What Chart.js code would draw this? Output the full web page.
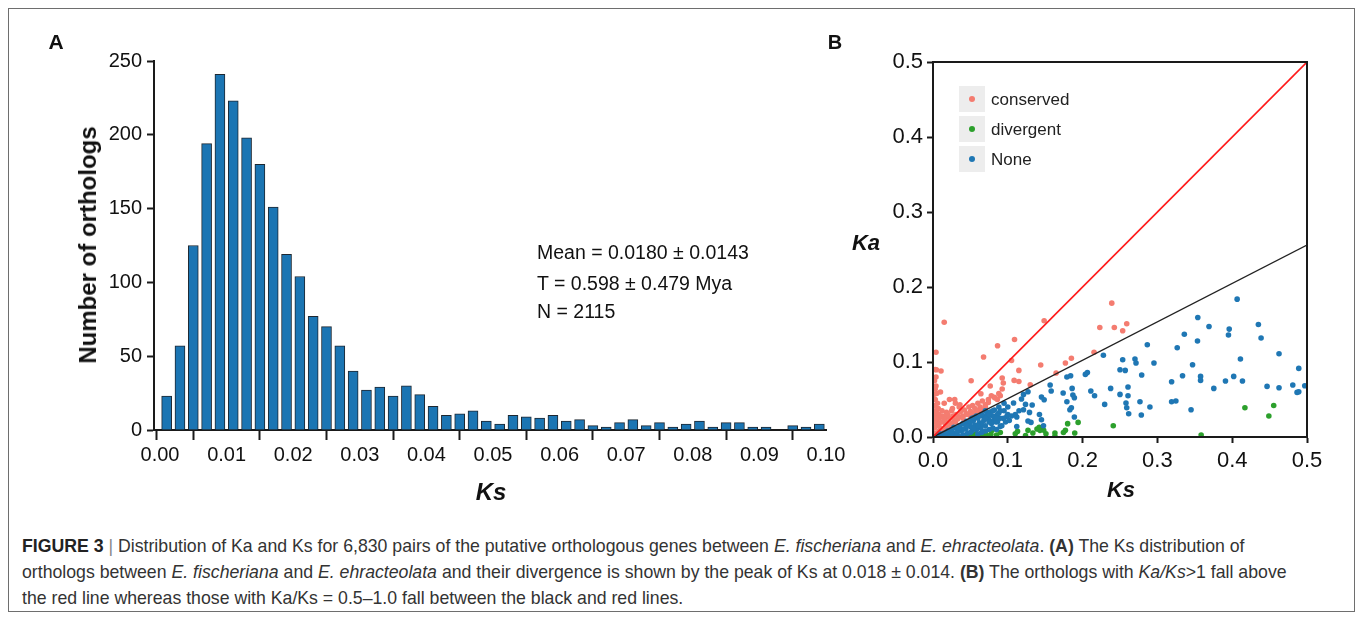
<!DOCTYPE html>
<html><head><meta charset="utf-8">
<script src="https://cdn.jsdelivr.net/npm/chart.js@4.4.0/dist/chart.umd.min.js"></script>
<style>
html,body{margin:0;padding:0;background:#fff;}
body{width:1357px;height:617px;position:relative;overflow:hidden;font-family:"Liberation Sans",Arial,sans-serif;color:#111;}
#frame{position:absolute;left:8px;top:8px;width:1347px;height:604px;box-sizing:border-box;border:1.5px solid #6e6e6e;}
canvas{position:absolute;}
.t{position:absolute;white-space:nowrap;line-height:1;transform:translate(-50%,-50%);}
.l{position:absolute;white-space:nowrap;line-height:1;transform:translate(0,-50%);}
.sq{position:absolute;width:26px;height:26px;background:#ededed;}
.dot{position:absolute;width:6px;height:6px;border-radius:50%;transform:translate(-50%,-50%);}
#cap{position:absolute;left:22px;top:533px;font-size:17.7px;line-height:26px;color:#333;white-space:nowrap;}
</style></head>
<body>
<div id="frame"></div>
<canvas id="cA" width="860" height="520" style="left:0;top:0;width:860px;height:520px"></canvas>
<canvas id="cB" width="527" height="520" style="left:830px;top:0;width:527px;height:520px"></canvas>

<div class="t" style="left:56px;top:40.5px;font-size:21px;font-weight:bold;">A</div>
<div class="t" style="left:835px;top:41.5px;font-size:20px;font-weight:bold;">B</div>
<div class="t" style="left:88px;top:245px;font-size:24px;font-weight:bold;transform:translate(-50%,-50%) rotate(-90deg);">Number of orthologs</div>
<div class="t" style="left:491px;top:492px;font-size:24px;font-weight:bold;font-style:italic;">Ks</div>
<div class="t" style="left:866px;top:243px;font-size:22px;font-weight:bold;font-style:italic;">Ka</div>
<div class="t" style="left:1121px;top:490px;font-size:22px;font-weight:bold;font-style:italic;">Ks</div>
<div class="l" style="left:537px;top:252.5px;font-size:19.5px;">Mean = 0.0180 ± 0.0143</div>
<div class="l" style="left:537px;top:283.5px;font-size:19.5px;">T = 0.598 ± 0.479 Mya</div>
<div class="l" style="left:537px;top:312px;font-size:19.5px;">N = 2115</div>

<div class="sq" style="left:959px;top:86px;"></div>
<div class="sq" style="left:959px;top:116px;"></div>
<div class="sq" style="left:959px;top:146px;"></div>
<div class="dot" style="left:972px;top:99px;background:#f47c70;"></div>
<div class="dot" style="left:972px;top:129px;background:#2ca02c;"></div>
<div class="dot" style="left:972px;top:159px;background:#1f77b4;"></div>
<div class="l" style="left:991px;top:99px;font-size:17px;color:#222;">conserved</div>
<div class="l" style="left:991px;top:129px;font-size:17px;color:#222;">divergent</div>
<div class="l" style="left:991px;top:159px;font-size:17px;color:#222;">None</div>

<div id="cap"><b style="color:#222">FIGURE 3</b> <span style="color:#888">|</span> Distribution of Ka and Ks for 6,830 pairs of the putative orthologous genes between <i>E. fischeriana</i> and <i>E. ehracteolata</i>. <b>(A)</b> The Ks distribution of<br>orthologs between <i>E. fischeriana</i> and <i>E. ehracteolata</i> and their divergence is shown by the peak of Ks at 0.018 ± 0.014. <b>(B)</b> The orthologs with <i>Ka/Ks</i>&gt;1 fall above<br>the red line whereas those with Ka/Ks = 0.5–1.0 fall between the black and red lines.</div>

<script>
// ---------- Panel A data ----------
const binCenters = [0.001,0.003,0.005,0.007,0.009,0.011,0.013,0.015,0.017,0.019,
  0.021,0.023,0.025,0.027,0.029,0.031,0.033,0.035,0.037,0.039,
  0.041,0.043,0.045,0.047,0.049,0.051,0.053,0.055,0.057,0.059,
  0.061,0.063,0.065,0.067,0.069,0.071,0.073,0.075,0.077,0.079,
  0.081,0.083,0.085,0.087,0.089,0.091,0.093,0.095,0.097,0.099];
const counts = [23,57,125,194,241,223,198,180,151,119,
  104,77,70,57,40,27,29,23,30,24,
  16,10,11,13,6,4,10,9,8,10,
  6,7,3,2,5,7,3,5,2,4,
  6,2,5,5,2,2,0,3,2,4];
const xTicksA = [-0.0009,0,0.01,0.02,0.03,0.04,0.05,0.06,0.07,0.08,0.09,0.1];
const yTicksA = [0,50,100,150,200,250];

// ---------- Panel B data ----------
const conservedKs = [0.015,0.239,0.1486,0.223,0.2424,0.2536,0.259,0.109,0.0863,0.0676,0.2153,0.185,0.177,0.105,0.144,0.1148,0.1646,0.004,0.0045,0.0107,0.051,0.0925,0.094,0.1085,0.1148,0.0765,0.064,0.130,0.0925,0.029,0.036,0.074,0.082,0.086,0.09,
  0.002,0.002,0.003,0.002,0.003,0.002,0.003,0.002,0.003,0.004,0.002,0.004,0.003,0.006,0.005,0.006,0.005,0.006,0.005,0.008,0.008,0.009,0.007,0.010,0.012,0.013,0.015,0.017,0.019,0.021,0.023,0.025,0.027,0.029,0.031,0.033,0.035,0.037,0.040,0.042,0.045,0.048,0.050,0.053,0.056,0.060,0.063,0.066,0.070,0.074,0.078,0.083,0.088,0.012,0.016,0.020,0.024,0.014,0.018,0.026,0.030,0.035,0.015,0.022,0.010,
  0.010,0.020,0.025,0.030,0.040,0.045,0.050,0.055,0.060,0.065,0.070,0.008,0.012,0.016,0.005,0.004];
const conservedKa = [0.153,0.1785,0.155,0.146,0.146,0.1416,0.151,0.130,0.1217,0.1066,0.113,0.105,0.0986,0.102,0.096,0.0888,0.0853,0.113,0.0897,0.088,0.075,0.0786,0.072,0.0755,0.074,0.068,0.0577,0.0697,0.064,0.050,0.043,0.046,0.053,0.050,0.055,
  0.005,0.012,0.020,0.028,0.035,0.042,0.050,0.057,0.064,0.068,0.075,0.080,0.090,0.003,0.015,0.024,0.032,0.045,0.058,0.008,0.018,0.026,0.038,0.012,0.020,0.028,0.024,0.016,0.027,0.020,0.025,0.018,0.028,0.022,0.030,0.024,0.027,0.034,0.028,0.036,0.031,0.040,0.034,0.042,0.038,0.045,0.040,0.048,0.043,0.050,0.055,0.052,0.058,0.008,0.010,0.013,0.015,0.004,0.033,0.038,0.045,0.040,0.045,0.050,0.060,
  0.006,0.030,0.035,0.020,0.025,0.030,0.028,0.032,0.035,0.036,0.040,0.030,0.035,0.022,0.005,0.025];
const divergentKs = [0.3585,0.241,0.417,0.4555,0.449,0.194,0.180,0.177,0.1895,0.1744,0.163,0.151,0.139,0.143,0.127,0.1335,0.113,0.110,0.1237,0.0774,0.079,0.090,0.0676,0.063,0.056,0.050,0.060,0.072,0.085,0.045,0.163,0.148,0.142,0.070,0.055];
const divergentKa = [0.0027,0.015,0.039,0.042,0.028,0.0195,0.0178,0.0089,0.0053,0.006,0.0053,0.0044,0.0107,0.0089,0.0089,0.0053,0.0075,0.0044,0.0018,0.0036,0.0089,0.006,0.0044,0.0027,0.0018,0.0018,0.0036,0.0018,0.0027,0.001,0.001,0.009,0.013,0.007,0.004];
const noneKs = [0.4066,0.354,0.369,0.336,0.3536,0.396,0.395,0.435,0.4386,0.2865,0.3265,0.4626,0.2278,0.2536,0.270,0.2714,0.2954,0.257,0.250,0.347,0.411,0.489,0.279,0.3336,0.3577,0.402,0.3577,0.319,0.391,0.4137,0.481,0.497,0.4466,0.4626,0.3754,0.2375,0.2607,0.4867,0.489,0.211,0.216,0.250,0.2607,0.2037,0.2064,0.184,0.179,0.1566,0.158,0.174,0.186,0.187,0.189,0.179,0.183,0.185,0.189,0.2767,0.258,0.259,0.2616,0.290,0.2785,0.319,0.3247,0.345,0.2295,0.145,0.1486,0.127,0.121,0.1183,0.1237,0.121,0.1326,0.129,0.1423,0.145,0.127,0.131,0.1477,0.112,0.112,0.1077,0.0988,0.0943,0.088,0.0863,0.0765,0.0738,0.081,0.090,
  0.005,0.008,0.010,0.012,0.015,0.017,0.020,0.022,0.025,0.027,0.030,0.032,0.034,0.036,0.038,0.040,0.042,0.044,0.046,0.048,0.050,0.052,0.054,0.056,0.058,0.060,0.062,0.064,0.066,0.068,0.070,0.072,0.074,0.076,0.078,0.080,0.082,0.084,0.086,0.088,0.090,0.095,0.097,0.100,0.102,0.105,0.060,0.065,0.075,0.045,0.035,0.028,0.018,0.052,0.040,0.058,0.070,0.075,0.080,0.092,0.085,
  0.030,0.040,0.050,0.055,0.065,0.070,0.075,0.080,0.085,0.090,0.045,0.035,0.025,0.060,0.070,0.065,0.055,0.050,0.110,0.115,0.100,0.095];
const noneKa = [0.1838,0.1594,0.1474,0.137,0.128,0.1439,0.136,0.150,0.132,0.123,0.119,0.111,0.109,0.103,0.104,0.0986,0.0986,0.0888,0.0897,0.0964,0.104,0.0915,0.0827,0.0817,0.0808,0.0808,0.0755,0.0737,0.0746,0.0746,0.0693,0.0684,0.0675,0.0657,0.0648,0.0648,0.0666,0.0595,0.0604,0.0613,0.055,0.0568,0.055,0.0835,0.0861,0.0817,0.080,0.0693,0.0613,0.0586,0.0648,0.056,0.0524,0.047,0.0364,0.039,0.0266,0.047,0.0453,0.039,0.031,0.040,0.0293,0.047,0.048,0.0364,0.0435,0.0533,0.0497,0.0604,0.0568,0.0506,0.0435,0.0364,0.0426,0.0328,0.030,0.023,0.0213,0.0195,0.015,0.0266,0.014,0.0453,0.0275,0.0249,0.032,0.0204,0.0329,0.0284,0.022,0.0142,
  0.001,0.002,0.004,0.001,0.005,0.002,0.008,0.004,0.010,0.002,0.012,0.006,0.001,0.015,0.009,0.003,0.017,0.011,0.005,0.020,0.014,0.008,0.022,0.016,0.010,0.025,0.019,0.012,0.028,0.022,0.015,0.030,0.024,0.033,0.018,0.028,0.036,0.020,0.030,0.040,0.025,0.035,0.020,0.030,0.022,0.028,0.004,0.006,0.010,0.021,0.008,0.013,0.006,0.025,0.018,0.028,0.035,0.030,0.012,0.015,0.010,
  0.005,0.010,0.020,0.012,0.018,0.025,0.020,0.035,0.025,0.035,0.015,0.012,0.006,0.015,0.008,0.030,0.026,0.006,0.030,0.035,0.040,0.045];
const redLineKs = [0,0.5], redLineKa = [0,0.5];
const blackLineKs = [0,0.5], blackLineKa = [0,0.256];
const ticksB = [0,0.1,0.2,0.3,0.4,0.5];

const FONT = '"Liberation Sans", Arial, sans-serif';
const AX = '#1a1a1a';
const pts = (xs, ys) => xs.map((x, i) => ({x, y: ys[i]}));

// ---------- Panel A ----------
new Chart(document.getElementById('cA'), {
  type: 'bar',
  data: { datasets: [{
    data: pts(binCenters, counts),
    backgroundColor: '#1b75b3', borderColor: '#1e2730', borderWidth: 1,
    barThickness: 10, borderSkipped: 'start'
  }]},
  options: {
    responsive: false, animation: false, devicePixelRatio: 1,
    layout: { padding: { top: 61, right: 34, left: 0, bottom: 0 } },
    plugins: { legend: { display: false }, tooltip: { enabled: false } },
    scales: {
      x: {
        type: 'linear', min: -0.0009, max: 0.1, offset: false,
        afterBuildTicks: s => { s.ticks = xTicksA.map(v => ({ value: v })); },
        afterFit: s => { s.height = 90; },
        grid: { drawOnChartArea: false, tickLength: 10, tickWidth: 2, tickColor: AX },
        border: { display: true, width: 2, color: AX },
        ticks: { autoSkip: false, maxRotation: 0, padding: 3, color: '#111',
          font: { family: FONT, size: 20 },
          callback: v => v < 0 ? '' : v.toFixed(2) }
      },
      y: {
        min: 0, max: 250,
        afterBuildTicks: s => { s.ticks = yTicksA.map(v => ({ value: v })); },
        afterFit: s => { s.width = 154; },
        grid: { drawOnChartArea: false, tickLength: 7, tickWidth: 2, tickColor: AX },
        border: { display: true, width: 2, color: AX },
        ticks: { padding: 5, color: '#111', font: { family: FONT, size: 20 } }
      }
    }
  }
});

// ---------- Panel B ----------
const frameB = {
  id: 'frameB',
  afterDraw(chart) {
    const a = chart.chartArea, c = chart.ctx;
    c.save(); c.strokeStyle = AX; c.lineWidth = 2;
    c.strokeRect(a.left, a.top, a.right - a.left, a.bottom - a.top);
    c.restore();
  }
};
new Chart(document.getElementById('cB'), {
  type: 'scatter',
  data: { datasets: [
    { type: 'line', data: pts(redLineKs, redLineKa), borderColor: '#ff1a1a', borderWidth: 1.6, pointRadius: 0, order: 0 },
    { type: 'line', data: pts(blackLineKs, blackLineKa), borderColor: '#222', borderWidth: 1.4, pointRadius: 0, order: 0 },
    { label: 'None', data: pts(noneKs, noneKa), backgroundColor: '#1f77b4', pointRadius: 2.8, borderWidth: 0, order: 1 },
    { label: 'divergent', data: pts(divergentKs, divergentKa), backgroundColor: '#2ca02c', pointRadius: 2.8, borderWidth: 0, order: 2 },
    { label: 'conserved', data: pts(conservedKs, conservedKa), backgroundColor: '#f47c70', pointRadius: 2.8, borderWidth: 0, order: 3 }
  ]},
  options: {
    responsive: false, animation: false, devicePixelRatio: 1,
    layout: { padding: { top: 62, right: 50, left: 0, bottom: 0 } },
    plugins: { legend: { display: false }, tooltip: { enabled: false } },
    scales: {
      x: {
        type: 'linear', min: 0, max: 0.5,
        afterBuildTicks: s => { s.ticks = ticksB.map(v => ({ value: v })); },
        afterFit: s => { s.height = 83; },
        grid: { drawOnChartArea: false, tickLength: 6, tickWidth: 2, tickColor: AX },
        border: { display: true, width: 2, color: AX },
        ticks: { autoSkip: false, maxRotation: 0, padding: 5, color: '#111',
          font: { family: FONT, size: 22 }, callback: v => v.toFixed(1) }
      },
      y: {
        type: 'linear', min: 0, max: 0.5,
        afterBuildTicks: s => { s.ticks = ticksB.map(v => ({ value: v })); },
        afterFit: s => { s.width = 103; },
        grid: { drawOnChartArea: false, tickLength: 6, tickWidth: 2, tickColor: AX },
        border: { display: true, width: 2, color: AX },
        ticks: { padding: 4, color: '#111', font: { family: FONT, size: 22 }, callback: v => v.toFixed(1) }
      }
    }
  },
  plugins: [frameB]
});
</script>
</body></html>
